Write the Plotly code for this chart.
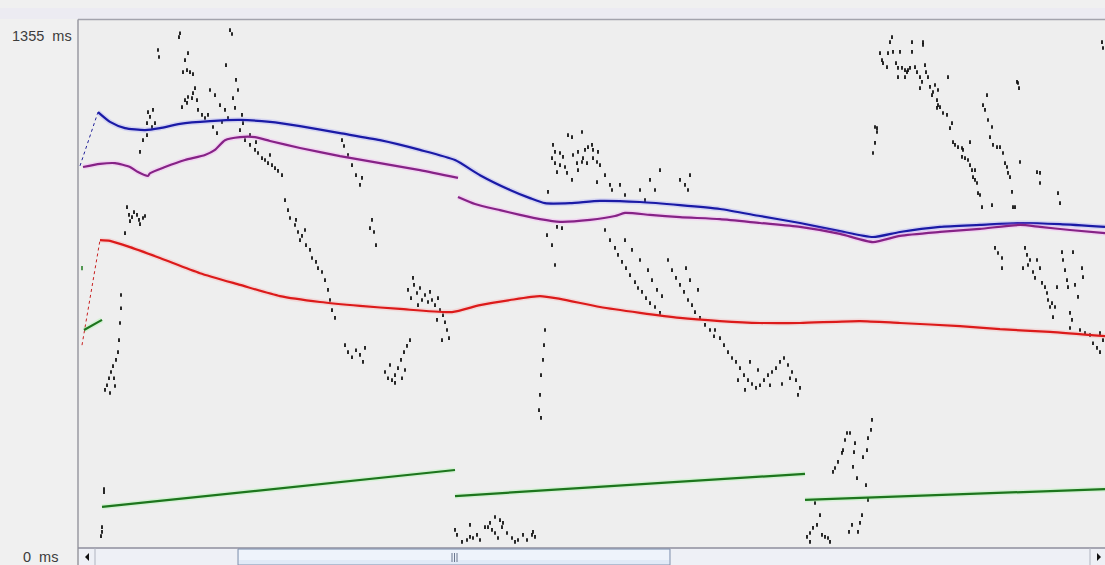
import plotly.graph_objects as go

# ---- data (time index t, value in ms) ----
Y_MAX = 1355
X_MAX = 1027

blue_t = [20, 32, 47, 67, 82, 102, 132, 162, 192, 222, 262, 302, 342, 377, 402, 432, 452, 467, 492, 522, 562, 602, 642, 682, 722, 762, 795, 822, 862, 902, 942, 982, 1027]
blue_ms = [1118, 1093, 1077, 1072, 1077, 1088, 1095, 1098, 1093, 1082, 1064, 1046, 1021, 995, 956, 918, 897, 884, 884, 890, 887, 879, 869, 851, 833, 812, 797, 810, 823, 828, 833, 830, 823]
blue_ramp_t = [2, 20]
blue_ramp_ms = [980, 1118]

purple1_t = [5, 22, 37, 52, 60, 70, 72, 87, 107, 127, 137, 147, 162, 177, 192, 222, 262, 302, 342, 380]
purple1_ms = [977, 985, 987, 977, 964, 954, 961, 977, 995, 1008, 1021, 1046, 1054, 1054, 1044, 1026, 1005, 987, 969, 949]
purple2_t = [380, 397, 422, 442, 462, 482, 512, 537, 547, 572, 602, 642, 682, 722, 762, 795, 822, 862, 902, 942, 962, 992, 1027]
purple2_ms = [900, 882, 866, 854, 843, 836, 841, 851, 859, 854, 848, 843, 833, 823, 805, 784, 800, 810, 818, 828, 823, 815, 807]

red_t = [22, 32, 52, 82, 122, 162, 202, 242, 282, 322, 374, 402, 432, 462, 482, 522, 562, 602, 642, 682, 722, 782, 822, 882, 922, 972, 1027]
red_ms = [789, 787, 771, 743, 704, 674, 645, 630, 620, 612, 604, 622, 635, 645, 638, 617, 602, 589, 581, 576, 576, 581, 576, 568, 560, 553, 542]
red_ramp_t = [4, 22]
red_ramp_ms = [519, 789]

green_short_t = [6, 24]
green_short_ms = [558, 584]
green1_t = [24, 377]
green1_ms = [103, 198]
green2_t = [377, 727]
green2_ms = [131, 188]
green3_t = [727, 1027]
green3_ms = [121, 149]
green_dot_t = [4]
green_dot_ms = [717]

samples = [
    (26,149),(26,141),(24,51),(24,39),(23,28),(43,648),(43,614),(42,576),(41,532),(40,501),(38,481),(35,465),
    (33,450),(31,434),(29,416),(27,404),(36,434),(37,414),(32,396),
    (47,807),(49,874),(51,854),(52,838),(54,848),(56,861),(59,854),(61,841),(62,830),(65,846),(67,851),
    (70,1118),(75,1124),(72,1106),(77,1090),(69,1090),(74,1080),(65,1046),(62,1016),(69,1059),
    (102,1321),(101,1311),(152,1329),(154,1319),(80,1278),(81,1260),(110,1270),(107,1252),(109,1226),(112,1221),
    (115,1216),(105,1221),(117,1180),(115,1167),(110,1157),(114,1154),(107,1149),(109,1142),(119,1149),(104,1131),
    (120,1124),(124,1111),(127,1103),(130,1111),(135,1080),(139,1064),(155,1154),(157,1129),(164,1111),(165,1090),
    (142,1136),(147,1124),(150,1103),(144,1093),(158,1201),(160,1175),(148,1239),(132,1175),(137,1162),
    (167,1046),(172,1034),(177,1021),(180,1013),(184,1000),(187,995),(190,987),(194,982),(197,974),(200,967),
    (204,956),(172,1059),(178,1041),(192,1008),(162,1072),
    (207,892),(210,866),(212,846),(217,828),(220,810),(222,789),(224,800),(228,776),(232,764),(234,743),
    (238,733),(240,717),(244,707),(247,686),(250,661),(252,635),(254,609),(257,589),(218,841),(227,815),
    (264,1046),(266,1031),(270,1008),(274,982),(278,956),(282,931),(284,949),(294,841),(296,810),(298,776),(292,820),
    (267,519),(270,501),(274,488),(278,506),(282,494),(285,476),(287,512),
    (307,450),(310,434),(314,429),(317,442),(320,460),(323,481),(326,501),(329,517),(332,532),(317,422),
    (312,468),(324,434),(327,455),
    (330,661),(333,640),(336,674),(339,653),(342,666),(344,635),(347,648),(350,630),(352,656),(354,635),
    (357,622),(360,640),(362,609),(365,596),(367,578),(369,558),(371,537),(364,532),(359,584),(340,622),(335,692),
    (475,1034),(490,1059),(494,1054),(504,1067),(477,1016),(482,1013),(485,1003),(495,1008),(500,1016),(507,1021),
    (510,1028),(514,1034),(515,1021),(474,1000),(477,987),(482,982),(487,977),(489,962),(499,987),(504,990),
    (505,1000),(509,987),(515,1000),(519,990),(479,964),(494,944),(500,969),(519,938),(470,913),(469,802),
    (479,823),(484,820),(520,1016),(522,982),(527,956),(532,931),(534,918),(542,931),(547,905),(562,918),
    (567,892),(577,918),(602,944),(607,931),(610,918),(612,956),(582,969),(572,944),
    (467,558),(466,519),(465,481),(463,442),(462,391),(461,352),(463,332),(474,776),(477,725),
    (527,815),(532,789),(537,769),(540,751),(544,733),(548,717),(552,699),(557,681),(560,666),(564,656),
    (568,640),(572,627),(577,617),(582,602),(547,789),(554,764),(562,738),(570,712),(574,686),(579,661),(584,645),
    (590,738),(594,712),(598,692),(602,674),(606,656),(610,635),(614,622),(617,604),(622,589),(627,571),
    (632,558),(636,542),(608,717),(612,686),(620,661),
    (637,558),(642,537),(646,519),(650,501),(654,486),(658,476),(662,460),(666,442),(670,429),(674,419),
    (678,409),(682,416),(686,429),(690,442),(694,450),(698,460),(702,476),(706,486),(710,468),(714,450),
    (718,429),(722,409),(720,391),(667,404),(660,429),(680,455),(692,416),(712,434),(704,419),(672,476),
    (377,44),(379,31),(384,13),(389,18),(392,26),(395,23),(399,31),(402,18),(407,51),(410,51),(412,62),
    (414,44),(417,36),(420,23),(424,51),(425,62),(429,36),(434,23),(437,13),(440,18),(445,31),(449,18),
    (454,31),(455,39),(457,26),(417,77),(422,69),(392,57),
    (794,327),(793,301),(790,280),(789,249),(769,293),(772,293),(767,275),(765,249),(764,242),(760,219),
    (757,203),(755,193),(777,267),(776,244),(785,231),(779,177),(788,159),(775,206),(737,113),(742,82),
    (739,57),(735,49),(732,36),(729,26),(732,13),(744,31),(747,26),(750,23),(752,13),(784,82),(782,62),
    (780,39),(774,57),(771,39),(790,121),
    (814,1311),(812,1298),(802,1270),(810,1270),(815,1273),(822,1273),(834,1298),(834,1273),(845,1298),
    (845,1291),(804,1252),(805,1244),(809,1234),(818,1244),(820,1232),(824,1232),(827,1226),(829,1221),
    (830,1226),(832,1232),(820,1208),(827,1208),(837,1234),(839,1221),(842,1208),(844,1196),(842,1180),
    (847,1239),(848,1221),(850,1208),(852,1183),(855,1170),(857,1188),(854,1162),(860,1175),(859,1149),
    (860,1136),(862,1131),(859,1129),(865,1116),(869,1111),(870,1208),(874,1090),(872,1077),(875,1041),
    (877,1034),(880,1028),(884,1026),(885,1021),(884,1003),(887,1000),(890,995),(892,982),(894,969),
    (897,969),(895,951),(897,944),(899,936),(900,910),(902,905),(904,874),(914,879),(892,1041),
    (797,1080),(799,1077),(799,1067),(797,1039),(795,1013),
    (909,1162),(905,1136),(907,1124),(910,1098),(914,1080),(912,1054),(915,1034),(919,1028),(922,1028),
    (925,1013),(927,987),(929,977),(930,962),(932,951),(934,913),(935,874),(937,874),(942,990),
    (939,1196),(940,1193),(941,1180),(959,964),(962,962),(962,936),(980,910),(982,884),(1024,1298),(1025,1283),
    (917,769),(920,756),(924,743),(924,717),(947,769),(949,751),(952,738),(950,725),(945,717),(955,707),
    (959,738),(962,717),(957,692),(964,679),(967,668),(969,653),(970,635),(972,617),(975,591),(974,627),
    (977,617),(979,668),(984,758),(985,738),(987,712),(989,686),(990,668),(992,602),(994,584),(995,758),
    (997,674),(1000,643),(1004,717),(1005,694),(1002,558),(1007,550),(992,563),(1012,545),(1015,524),
    (1019,512),(1022,550),(1025,532),(1022,501),
]
dot_t = [p[0] for p in samples]
dot_ms = [p[1] for p in samples]

Y_LABEL_TOP = "1355\u00a0 ms"
Y_LABEL_BOTTOM = "0\u00a0 ms"

# ---- figure ----
fig = go.Figure()

def add_line(t, v, color, halo, width=2.2, shape="spline"):
    fig.add_trace(go.Scatter(x=t, y=v, mode="lines", hoverinfo="skip",
                             line=dict(color=halo, width=width + 3, shape=shape, smoothing=0.6),
                             opacity=0.22, showlegend=False))
    fig.add_trace(go.Scatter(x=t, y=v, mode="lines", hoverinfo="skip",
                             line=dict(color=color, width=width, shape=shape, smoothing=0.6),
                             showlegend=False))

# dots
fig.add_trace(go.Scatter(x=dot_t, y=dot_ms, mode="markers", hoverinfo="skip", showlegend=False,
                         marker=dict(symbol="line-ns", size=2.6, color="#111111",
                                     line=dict(width=1.8, color="#111111"))))

# ramps (thin dotted)
fig.add_trace(go.Scatter(x=blue_ramp_t, y=blue_ramp_ms, mode="lines", showlegend=False, hoverinfo="skip",
                         line=dict(color="#22229a", width=1, dash="dot")))
fig.add_trace(go.Scatter(x=red_ramp_t, y=red_ramp_ms, mode="lines", showlegend=False, hoverinfo="skip",
                         line=dict(color="#c82020", width=1, dash="dot")))

add_line(blue_t, blue_ms, "#1a1aa6", "#8080ff")
add_line(purple1_t, purple1_ms, "#862286", "#ff80ff")
add_line(purple2_t, purple2_ms, "#862286", "#ff80ff")
add_line(red_t, red_ms, "#dc1a1a", "#ff9090")
add_line(green_short_t, green_short_ms, "#1d751d", "#80ff80", shape="linear")
add_line(green1_t, green1_ms, "#1d751d", "#80ff80", shape="linear")
add_line(green2_t, green2_ms, "#1d751d", "#80ff80", shape="linear")
add_line(green3_t, green3_ms, "#1d751d", "#80ff80", shape="linear")
fig.add_trace(go.Scatter(x=green_dot_t, y=green_dot_ms, mode="markers", showlegend=False, hoverinfo="skip",
                         marker=dict(symbol="line-ns", size=3, color="#1e7a1e", line=dict(width=1.5, color="#1e7a1e"))))

W, H = 1105, 565
L, T, B = 78, 20, 18
pw, ph = W - L, H - T - B

def px(x):  # pixel x -> paper
    return (x - L) / pw

def py(y):  # pixel y -> paper
    return (H - B - y) / ph

shapes = []
# top band and border
shapes.append(dict(type="rect", xref="paper", yref="paper", x0=px(0), x1=px(W), y0=py(8), y1=py(19),
                   fillcolor="#ecebf2", line=dict(width=0), layer="below"))
shapes.append(dict(type="line", xref="paper", yref="paper", x0=px(L), x1=px(W), y0=py(19.5), y1=py(19.5),
                   line=dict(color="#a3a3ad", width=1.5)))
shapes.append(dict(type="line", xref="paper", yref="paper", x0=px(L), x1=px(L), y0=py(19.5), y1=py(H),
                   line=dict(color="#9a9aa2", width=1.5)))
# scrollbar
sb0, sb1 = 548, H
shapes.append(dict(type="rect", xref="paper", yref="paper", x0=px(L + 1), x1=px(W), y0=py(sb1), y1=py(sb0),
                   fillcolor="#eef0f6", line=dict(width=0)))
shapes.append(dict(type="line", xref="paper", yref="paper", x0=px(L), x1=px(W), y0=py(sb0), y1=py(sb0),
                   line=dict(color="#8e8e9c", width=1.5)))
shapes.append(dict(type="rect", xref="paper", yref="paper", x0=px(238), x1=px(670), y0=py(sb1), y1=py(sb0 + 1),
                   fillcolor="#e1eaf7", line=dict(color="#8090ac", width=1)))
shapes.append(dict(type="rect", xref="paper", yref="paper", x0=px(239), x1=px(669), y0=py(560), y1=py(sb0 + 2),
                   fillcolor="#eef3fb", line=dict(width=0)))
shapes.append(dict(type="line", xref="paper", yref="paper", x0=px(95), x1=px(95), y0=py(sb1), y1=py(sb0),
                   line=dict(color="#b0b4c0", width=1)))
shapes.append(dict(type="line", xref="paper", yref="paper", x0=px(1090), x1=px(1090), y0=py(sb1), y1=py(sb0),
                   line=dict(color="#b0b4c0", width=1)))
for gx in (452, 454.5, 457):
    shapes.append(dict(type="line", xref="paper", yref="paper", x0=px(gx), x1=px(gx), y0=py(562), y1=py(553),
                       line=dict(color="#6c7890", width=1)))
# arrows
shapes.append(dict(type="path", xref="paper", yref="paper",
                   path=f"M {px(85)},{py(557)} L {px(89)},{py(553)} L {px(89)},{py(561)} Z",
                   fillcolor="#111", line=dict(width=0)))
shapes.append(dict(type="path", xref="paper", yref="paper",
                   path=f"M {px(1101)},{py(557)} L {px(1097)},{py(553)} L {px(1097)},{py(561)} Z",
                   fillcolor="#111", line=dict(width=0)))

label_font = dict(family="Liberation Sans, Arial", size=14.5, color="#3c3c3c")
annotations = [
    dict(text=Y_LABEL_TOP, xref="paper", yref="paper", x=px(42), y=py(36), xanchor="center", yanchor="middle",
         showarrow=False, font=label_font),
    dict(text=Y_LABEL_BOTTOM, xref="paper", yref="paper", x=px(40), y=py(557), xanchor="center", yanchor="middle",
         showarrow=False, font=label_font),
]

fig.update_layout(
    width=W, height=H,
    margin=dict(l=L, r=0, t=T, b=B, pad=0),
    paper_bgcolor="#f0f0f0", plot_bgcolor="#eeeeee",
    xaxis=dict(range=[0, X_MAX], visible=False, fixedrange=True),
    yaxis=dict(range=[0, Y_MAX], visible=False, fixedrange=True),
    shapes=shapes, annotations=annotations,
    showlegend=False,
)
fig.write_html("out.html")
